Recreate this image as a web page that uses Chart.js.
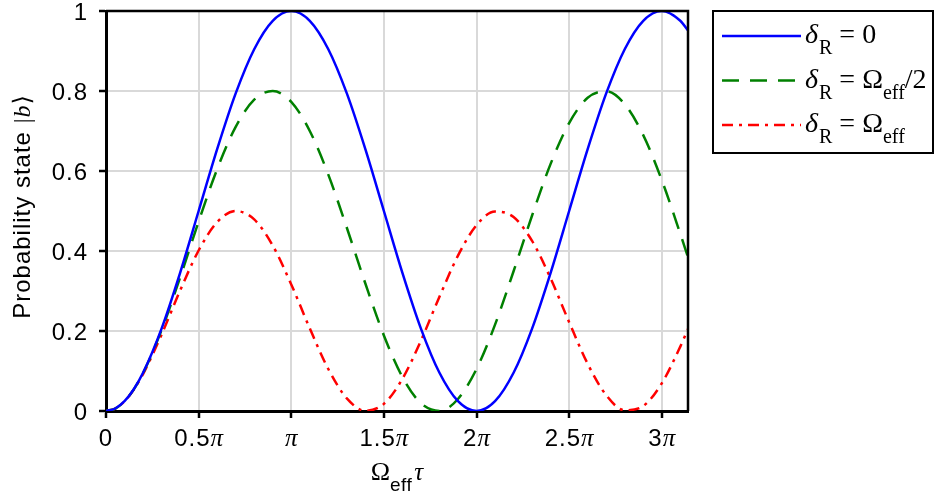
<!DOCTYPE html>
<html>
<head>
<meta charset="utf-8">
<script src="https://cdn.jsdelivr.net/npm/chart.js@4.4.0/dist/chart.umd.min.js"></script>
<style>
  html, body { margin: 0; padding: 0; background: #fff; }
  #wrap { width: 936px; height: 500px; }
</style>
</head>
<body>
<div id="wrap"><canvas id="chart" width="936" height="500"></canvas></div>
<script>
// x in units of pi (Omega_eff * tau / pi)
const xValues = [0, 0.05, 0.1, 0.15, 0.2, 0.3, 0.4, 0.5, 0.6, 0.7, 0.8, 0.9, 1.0, 1.1, 1.2, 1.3, 1.4, 1.5,
  1.6, 1.7, 1.8, 1.9, 2.0, 2.1, 2.2, 2.3, 2.4, 2.5, 2.6, 2.7, 2.8, 2.9, 3.0, 3.1, 3.1416];

// delta_R = 0
const blueValues = [0, 0.0062, 0.0245, 0.0545, 0.0955, 0.2061, 0.3455, 0.5, 0.6545, 0.7939, 0.9045, 0.9755, 1,
  0.9755, 0.9045, 0.7939, 0.6545, 0.5, 0.3455, 0.2061, 0.0955, 0.0245, 0, 0.0245, 0.0955,
  0.2061, 0.3455, 0.5, 0.6545, 0.7939, 0.9045, 0.9755, 1, 0.9755, 0.9514];

// delta_R = Omega_eff / 2
const greenValues = [0, 0.0062, 0.0244, 0.0542, 0.0947, 0.2023, 0.3337, 0.4737, 0.6046, 0.7102, 0.7782, 0.7999,
  0.7729, 0.7001, 0.5910, 0.4581, 0.3187, 0.1889, 0.0849, 0.0194, 0.0003, 0.0301, 0.1050,
  0.2159, 0.3494, 0.4888, 0.6178, 0.7199, 0.7830, 0.7993, 0.7669, 0.6897, 0.5772, 0.4430, 0.3844];

// delta_R = Omega_eff
const redValues = [0, 0.0061, 0.0243, 0.0535, 0.0924, 0.1911, 0.3012, 0.4013, 0.4722, 0.4999, 0.4790, 0.4137,
  0.3165, 0.2065, 0.1049, 0.0315, 0.0005, 0.0179, 0.0804, 0.1758, 0.2856, 0.3885, 0.4646,
  0.4989, 0.4849, 0.4252, 0.3316, 0.2221, 0.1181, 0.0396, 0.0020, 0.0125, 0.0692, 0.1610, 0.2053];

const xMax = 3.1416;
const xTicks = [0, 0.5, 1, 1.5, 2, 2.5, 3];
const xTickLabels = [['0', ''], ['0.5', 'π'], ['', 'π'], ['1.5', 'π'], ['2', 'π'], ['2.5', 'π'], ['3', 'π']];
const yTicks = [0, 0.2, 0.4, 0.6, 0.8, 1];
const yTickLabels = ['0', '0.2', '0.4', '0.6', '0.8', '1'];

const SANS = '"Liberation Sans", Arial, sans-serif';
const SERIF = '"Liberation Serif", "DejaVu Serif", serif';

const toPoints = (vals) => vals.map((v, i) => ({ x: xValues[i], y: v }));

const series = [
  { label: 'δR = 0', data: blueValues, color: '#0000ff', dash: [] },
  { label: 'δR = Ωeff/2', data: greenValues, color: '#008000', dash: [17, 11] },
  { label: 'δR = Ωeff', data: redValues, color: '#ff0000', dash: [11, 6, 3, 6] }
];

// legend text pieces (sub = subscript)
const legendParts = [
  [{ t: 'δ', f: 'italic 28px ' + SERIF, gap: 1 }, { t: 'R', f: '20px ' + SERIF, sub: true }, { t: ' = 0', f: '28px ' + SERIF }],
  [{ t: 'δ', f: 'italic 28px ' + SERIF, gap: 1 }, { t: 'R', f: '20px ' + SERIF, sub: true }, { t: ' = Ω', f: '28px ' + SERIF },
   { t: 'eff', f: '20px ' + SERIF, sub: true }, { t: '/2', f: '28px ' + SERIF }],
  [{ t: 'δ', f: 'italic 28px ' + SERIF, gap: 1 }, { t: 'R', f: '20px ' + SERIF, sub: true }, { t: ' = Ω', f: '28px ' + SERIF },
   { t: 'eff', f: '20px ' + SERIF, sub: true }]
];

const setSpacing = (ctx, px) => { if ('letterSpacing' in ctx) ctx.letterSpacing = px; };

const measureParts = (ctx, parts) => {
  let w = 0;
  parts.forEach(p => {
    ctx.font = p.f;
    setSpacing(ctx, p.ls || '0px');
    w += ctx.measureText(p.t).width + (p.gap || 0);
  });
  return w;
};

const drawParts = (ctx, parts, x, y) => {
  parts.forEach(p => {
    ctx.font = p.f;
    setSpacing(ctx, p.ls || '0px');
    ctx.fillText(p.t, x, y + (p.sub ? 11 : 0));
    x += ctx.measureText(p.t).width + (p.gap || 0);
  });
  setSpacing(ctx, '0px');
  return x;
};

const textPlugin = {
  id: 'texts',
  afterDatasetsDraw(chart) {
    const { ctx, chartArea: a } = chart;
    // thin frame on top and right
    ctx.save();
    ctx.strokeStyle = '#000';
    ctx.lineWidth = 2.5;
    ctx.beginPath();
    ctx.moveTo(a.left, a.top);
    ctx.lineTo(a.right, a.top);
    ctx.lineTo(a.right, a.bottom);
    ctx.stroke();
    ctx.restore();
  },
  afterDraw(chart) {
    const { ctx, scales: { x, y } } = chart;
    ctx.save();
    ctx.fillStyle = '#000';
    ctx.textBaseline = 'alphabetic';
    ctx.textAlign = 'left';

    // x tick labels
    xTicks.forEach((v, i) => {
      const [num, sym] = xTickLabels[i];
      const parts = [{ t: num, f: '24px ' + SANS, ls: '1px' }];
      if (sym) parts.push({ t: sym, f: 'italic 25px ' + SERIF });
      const w = measureParts(ctx, parts);
      drawParts(ctx, parts, x.getPixelForValue(v) - w / 2, 446);
    });

    // y tick labels
    yTicks.forEach((v, i) => {
      const parts = [{ t: yTickLabels[i], f: '24px ' + SANS, ls: '1px' }];
      const w = measureParts(ctx, parts);
      drawParts(ctx, parts, 88 - w, y.getPixelForValue(v) + 8.5);
    });

    // y title
    const yTitle = [
      { t: 'Probability state ', f: '24px ' + SANS, ls: '1px' },
      { t: '|', f: '24px ' + SERIF, gap: 1 },
      { t: 'b', f: 'italic 24px ' + SERIF, gap: 1 },
      { t: '⟩', f: '24px ' + SERIF }
    ];
    ctx.save();
    ctx.translate(30, 207);
    ctx.rotate(-Math.PI / 2);
    const wy = measureParts(ctx, yTitle);
    drawParts(ctx, yTitle, -wy / 2, 0);
    ctx.restore();

    // x title
    const xTitle = [
      { t: 'Ω', f: '26px ' + SERIF },
      { t: 'eff', f: '19px ' + SANS, sub: true, ls: '0.5px', gap: 2 },
      { t: 'τ', f: 'italic 25px ' + SERIF }
    ];
    const wx = measureParts(ctx, xTitle);
    const cx = (chart.chartArea.left + chart.chartArea.right) / 2;
    drawParts(ctx, xTitle, cx - wx / 2, 480);

    // legend
    ctx.lineWidth = 2;
    ctx.strokeStyle = '#000';
    ctx.strokeRect(713, 11, 220, 142);
    series.forEach((s, i) => {
      const ly = 36 + i * 44.5;
      ctx.save();
      ctx.strokeStyle = s.color;
      ctx.lineWidth = 2.5;
      ctx.setLineDash(s.dash);
      ctx.beginPath();
      ctx.moveTo(722, ly);
      ctx.lineTo(801, ly);
      ctx.stroke();
      ctx.restore();
      drawParts(ctx, legendParts[i], 805, ly + 7);
    });
    ctx.restore();
  }
};

new Chart(document.getElementById('chart'), {
  type: 'line',
  data: {
    datasets: series.map(s => ({
      label: s.label,
      data: toPoints(s.data),
      borderColor: s.color,
      borderWidth: 2.5,
      borderDash: s.dash,
      pointRadius: 0,
      fill: false,
      cubicInterpolationMode: 'monotone'
    }))
  },
  options: {
    responsive: false,
    animation: false,
    layout: { padding: { left: 0, top: 11, right: 248, bottom: 0 } },
    plugins: { legend: { display: false }, tooltip: { enabled: false } },
    scales: {
      x: {
        type: 'linear',
        min: 0,
        max: xMax,
        ticks: { display: false, stepSize: 0.5 },
        afterBuildTicks: (scale) => { scale.ticks = xTicks.map(v => ({ value: v })); },
        afterFit: (scale) => { scale.height = 89; },
        grid: { color: '#d9d9d9', lineWidth: 2, drawTicks: true, tickLength: 7, tickColor: '#000', tickWidth: 2.5 },
        border: { display: true, color: '#000', width: 3 }
      },
      y: {
        min: 0,
        max: 1,
        ticks: { display: false, stepSize: 0.2 },
        afterBuildTicks: (scale) => { scale.ticks = yTicks.map(v => ({ value: v })); },
        afterFit: (scale) => { scale.width = 106; },
        grid: { color: '#d9d9d9', lineWidth: 2, drawTicks: true, tickLength: 7, tickColor: '#000', tickWidth: 2.5 },
        border: { display: true, color: '#000', width: 3 }
      }
    }
  },
  plugins: [textPlugin]
});
</script>
</body>
</html>
